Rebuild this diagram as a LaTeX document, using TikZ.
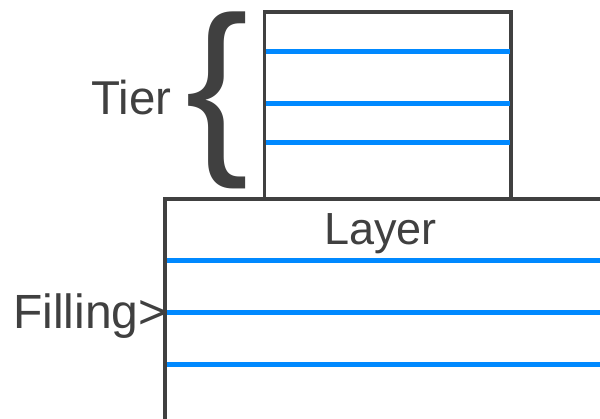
\documentclass[tikz,border=0pt]{standalone}
\usepackage{fontspec}
\setmainfont{Liberation Sans}
\definecolor{ink}{RGB}{64,64,64}
\definecolor{lineblue}{RGB}{0,137,255}
\tikzset{
  boxline/.style={draw=ink, line width=3.5pt},
  fillline/.style={draw=lineblue, line width=5pt},
  lbl/.style={inner sep=0pt, anchor=base west, text=ink, font=\fontsize{48}{52}\selectfont},
}
\begin{document}
\begin{tikzpicture}[x=1pt,y=-1pt]
\useasboundingbox (0,0) rectangle (600,419);
\clip (0,0) rectangle (600,419);
% top tier box
\coordinate (tierNW) at (264.5,12);
\coordinate (tierSE) at (511,198.5);
\draw[boxline] (tierNW) rectangle (tierSE);
\coordinate (t1l) at (266,52); \coordinate (t1r) at (509.5,52);
\coordinate (t2l) at (266,104); \coordinate (t2r) at (509.5,104);
\coordinate (t3l) at (266,143); \coordinate (t3r) at (509.5,143);
\draw[fillline] (t1l) -- (t1r);
\draw[fillline] (t2l) -- (t2r);
\draw[fillline] (t3l) -- (t3r);
% bottom layer box
\coordinate (bl) at (165,430);
\coordinate (tl) at (165,199);
\coordinate (tr) at (610,199);
\draw[boxline] (bl) -- (tl) -- (tr);
\coordinate (b1l) at (166.5,261); \coordinate (b1r) at (605,261);
\coordinate (b2l) at (166.5,313); \coordinate (b2r) at (605,313);
\coordinate (b3l) at (166.5,365); \coordinate (b3r) at (605,365);
\draw[fillline] (b1l) -- (b1r);
\draw[fillline] (b2l) -- (b2r);
\draw[fillline] (b3l) -- (b3r);
% labels
\node[lbl, font=\fontsize{47.5}{52}\selectfont] (tier) at (91,115) {Tier};
\node[lbl] (filling) at (13,329) {Filling>};
\node[lbl, font=\fontsize{45}{49}\selectfont] (layer) at (324,245) {Layer};
\node[inner sep=0pt, anchor=base west, text=ink, font=\fontsize{190}{200}\selectfont] (brace) at (185,150) {\{};
\end{tikzpicture}
\end{document}
